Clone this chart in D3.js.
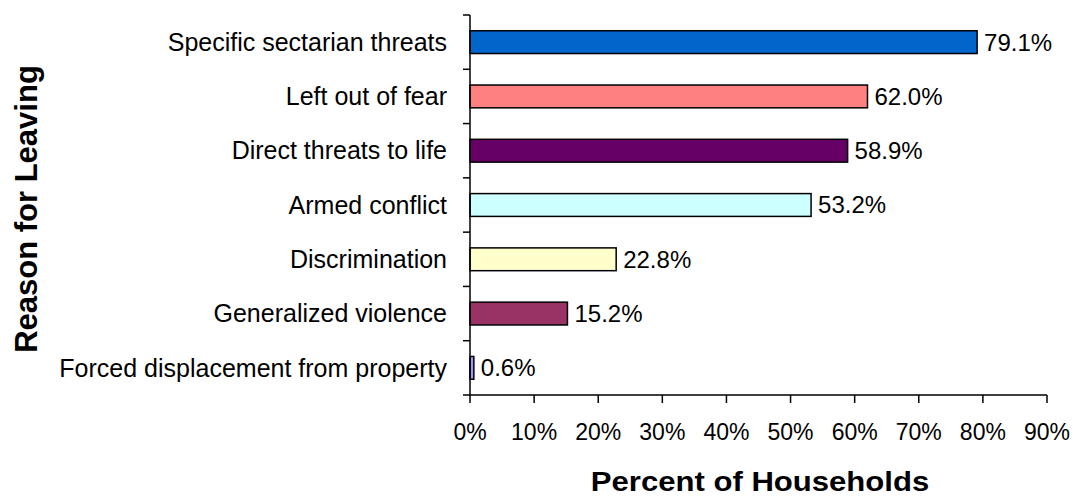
<!DOCTYPE html>
<html lang="en">
<head>
  <meta charset="UTF-8" />
  <title>Reason for Leaving</title>
  <style>
    body { margin: 0; background: white; }
    svg { display: block; font-family: 'Liberation Sans', Arial, sans-serif; }
  </style>
  <script src="https://d3js.org/d3.v7.min.js"></script>
</head>
<body>
  <div id="chart"></div>
  <script>
    const reasons = [
      "Specific sectarian threats",
      "Left out of fear",
      "Direct threats to life",
      "Armed conflict",
      "Discrimination",
      "Generalized violence",
      "Forced displacement from property"
    ];
    const percents = [79.1, 62.0, 58.9, 53.2, 22.8, 15.2, 0.6];
    const barColors = ["#0066CC", "#FF8080", "#660066", "#CCFFFF", "#FFFFCC", "#993366", "#9999FF"];
    const xTicks = [0, 10, 20, 30, 40, 50, 60, 70, 80, 90];

    const width = 1073;
    const height = 496;
    const margin = {left: 470, right: 26, top: 15, bottom: 101};

    const svg = d3.select("#chart")
      .append("svg")
      .attr("width", width)
      .attr("height", height);

    const x = d3.scaleLinear()
      .domain([0, 90])
      .range([margin.left, width - margin.right]);

    const y = d3.scaleBand()
      .domain(reasons)
      .range([margin.top, height - margin.bottom])
      .paddingInner(0.58)
      .paddingOuter(0.29);

    const yEdge = d3.scaleLinear()
      .domain([0, reasons.length])
      .range([margin.top, height - margin.bottom]);

    // bars
    svg.append("g")
      .selectAll("rect")
      .data(reasons)
      .enter().append("rect")
      .attr("x", x(0))
      .attr("y", d => y(d))
      .attr("width", (d, i) => x(percents[i]) - x(0))
      .attr("height", y.bandwidth())
      .attr("fill", (d, i) => barColors[i])
      .attr("stroke", "black")
      .attr("stroke-width", 1.5);

    // value labels
    svg.append("g")
      .selectAll("text")
      .data(reasons)
      .enter().append("text")
      .attr("x", (d, i) => x(percents[i]) + 7)
      .attr("y", d => y(d) + y.bandwidth() / 2)
      .attr("dy", "0.35em")
      .attr("font-size", 24)
      .attr("fill", "black")
      .text((d, i) => percents[i].toFixed(1) + "%");

    // y axis line and ticks
    const yAxis = svg.append("g");
    yAxis.append("line")
      .attr("x1", x(0)).attr("x2", x(0))
      .attr("y1", yEdge(0)).attr("y2", yEdge(reasons.length))
      .attr("stroke", "black").attr("stroke-width", 1.5);
    yAxis.selectAll("line.tick")
      .data(d3.range(reasons.length + 1))
      .enter().append("line")
      .attr("class", "tick")
      .attr("x1", x(0) - 7).attr("x2", x(0))
      .attr("y1", d => yEdge(d)).attr("y2", d => yEdge(d))
      .attr("stroke", "black").attr("stroke-width", 1.5);
    yAxis.selectAll("text")
      .data(reasons)
      .enter().append("text")
      .attr("x", x(0) - 23)
      .attr("y", d => y(d) + y.bandwidth() / 2)
      .attr("dy", "0.35em")
      .attr("text-anchor", "end")
      .attr("font-size", 25)
      .text(d => d);

    // x axis
    const xAxisY = yEdge(reasons.length);
    const xAxis = svg.append("g");
    xAxis.append("line")
      .attr("x1", x(0)).attr("x2", x(90))
      .attr("y1", xAxisY).attr("y2", xAxisY)
      .attr("stroke", "black").attr("stroke-width", 1.5);
    xAxis.selectAll("line.tick")
      .data(xTicks)
      .enter().append("line")
      .attr("class", "tick")
      .attr("x1", d => x(d)).attr("x2", d => x(d))
      .attr("y1", xAxisY).attr("y2", xAxisY + 8)
      .attr("stroke", "black").attr("stroke-width", 1.5);
    xAxis.selectAll("text")
      .data(xTicks)
      .enter().append("text")
      .attr("x", d => x(d))
      .attr("y", 440)
      .attr("text-anchor", "middle")
      .attr("font-size", 23)
      .text(d => d + "%");

    // axis titles (x title is a little wider than plain bold Arial)
    svg.append("text")
      .attr("transform", "translate(760, 491) scale(1.11, 1)")
      .attr("text-anchor", "middle")
      .attr("font-size", 28)
      .attr("font-weight", "bold")
      .text("Percent of Households");

    svg.append("text")
      .attr("transform", "translate(37, 209) rotate(-90)")
      .attr("text-anchor", "middle")
      .attr("font-size", 31)
      .attr("font-weight", "bold")
      .text("Reason for Leaving");
  </script>
</body>
</html>
